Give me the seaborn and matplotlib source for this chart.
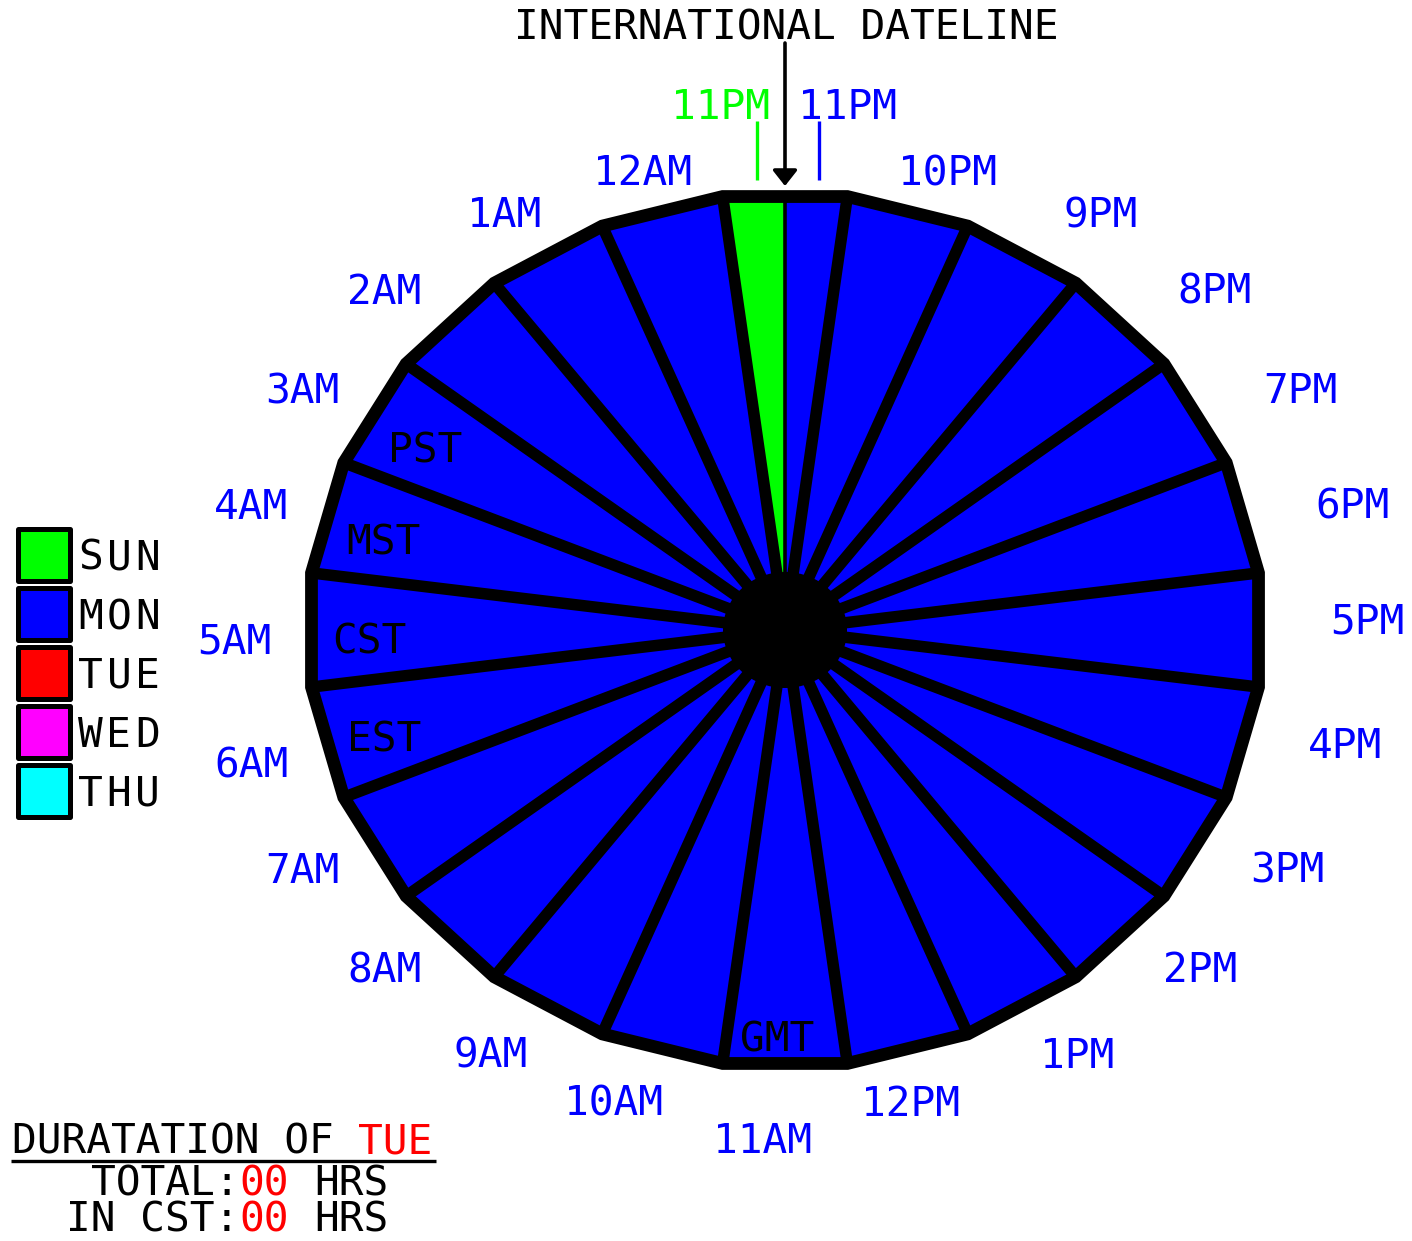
import numpy as np
import pandas as pd
import matplotlib
matplotlib.use("Agg")
import matplotlib.pyplot as plt
from matplotlib.patches import Polygon, Ellipse
import seaborn as sns

# ---------------- data ----------------
wedge_hours = ["11PM", "11PM", "10PM", "9PM", "8PM", "7PM", "6PM", "5PM", "4PM",
               "3PM", "2PM", "1PM", "12PM", "11AM", "10AM", "9AM", "8AM", "7AM",
               "6AM", "5AM", "4AM", "3AM", "2AM", "1AM", "12AM"]
wedge_days = ["SUN"] + ["MON"] * 24
wedge_share = [0.5, 0.5] + [1.0] * 23          # fraction of one hour in each slice
zone_names = ["PST", "MST", "CST", "EST", "GMT"]
zone_hours = ["3AM", "4AM", "5AM", "6AM", "11AM"]
legend_days = ["SUN", "MON", "TUE", "WED", "THU"]
day_colors = ["#00ff00", "#0000ff", "#ff0000", "#ff00ff", "#00ffff"]
title_text = "INTERNATIONAL DATELINE"
duration_day = "TUE"
total_hrs = "00"
cst_hrs = "00"

# ---------------- setup ----------------
sns.set_theme(style="white")
plt.rcParams["font.family"] = ["DejaVu Sans Mono"]

W, H = 1412, 1241
fig = plt.figure(figsize=(W / 100, H / 100), dpi=100)
ax = fig.add_axes([0, 0, 1, 1])

color_of = dict(zip(legend_days, day_colors))
FS = 29.6
CW = 0.602 * FS * 100 / 72      # monospace advance in px
CAP = 15                         # half cap height in px
BLUE = "#0000ff"

cx, cy = 785, 630
RX, RY = 477.6, 437.2
C75 = np.cos(np.radians(7.5))


def pt(theta, r):
    t = np.radians(theta)
    return cx + r * RX * np.sin(t), cy - r * RY * np.cos(t)


def edge_pt(theta):
    phi = np.round(theta / 15.0) * 15.0
    r = C75 / np.cos(np.radians(theta - phi))
    return pt(theta, r)


# ---------------- wedges ----------------
bounds = -7.5 + 15 * np.concatenate([[0], np.cumsum(wedge_share)])
mids = (bounds[:-1] + bounds[1:]) / 2
for i, day in enumerate(wedge_days):
    a0, a1 = bounds[i], bounds[i + 1]
    poly = [(cx, cy), edge_pt(a0), edge_pt(a1)]
    ax.add_patch(Polygon(poly, closed=True, facecolor=color_of[day],
                         edgecolor="none", zorder=1))

# separators
for b in bounds[:-1]:
    x1, y1 = edge_pt(b)
    is_dateline = abs(b) < 1e-9
    ax.plot([cx, x1], [cy, y1], color="black",
            lw=2.6 if is_dateline else 8.3, solid_capstyle="butt", zorder=2)

outer = [pt(7.5 + 15 * k, 1.0) for k in range(24)]
ax.add_patch(Polygon(outer, closed=True, facecolor="none", edgecolor="black",
                     lw=9.2, joinstyle="miter", zorder=3))
ax.add_patch(Ellipse((cx, cy), 124, 116, facecolor="black", edgecolor="none", zorder=4))

# ---------------- hour labels ----------------
for i, (hr, day) in enumerate(zip(wedge_hours, wedge_days)):
    th = mids[i]
    if wedge_share[i] < 1:
        # split dateline hour: tick + label above
        tx, _ = pt(th, 1.0)
        tx += 3
        ax.plot([tx, tx], [cy - RY * 1.03, cy - RY * 1.165], color=color_of[day],
                lw=2.4, solid_capstyle="butt", zorder=2)
        if th < 0:
            ax.text(cx - 15, 104 + CAP, hr, color=color_of[day], fontsize=FS,
                    ha="right", va="baseline")
        else:
            ax.text(cx + 13, 104 + CAP, hr, color=color_of[day], fontsize=FS,
                    ha="left", va="baseline")
        continue
    t = np.radians(th)
    s, c = np.sin(t), np.cos(t)
    if abs(s) < 1e-6:
        ax.text(cx - 23, cy + 510 + CAP - 2, hr, color=BLUE, fontsize=FS,
                ha="center", va="baseline")
        continue
    y = cy - 480 * c - 2
    if c < -0.8:
        y += 9
    if c > 0.95:
        y += 6
    if -0.3 < c < 0.1:
        y += 10 if s < 0 else -9
    if s > 0:
        a = 545 + 15 * c
        if c < -0.95:
            a *= 0.55
        elif c > 0.95:
            a *= 0.78
        elif c < -0.8:
            a *= 0.96
        x, ha = cx + a * s, "left"
    else:
        a = 514
        if c < -0.95:
            a *= 0.92
        elif c > 0.95:
            a *= 0.7
        elif c > 0.8:
            a *= 0.95
        x, ha = cx + a * s, "right"
    ax.text(x, y + CAP, hr, color=BLUE, fontsize=FS, ha=ha, va="baseline")

# ---------------- time zone labels ----------------
for z, hr in zip(zone_names, zone_hours):
    idx = wedge_hours.index(hr)
    r = 0.93 if z == "GMT" else 0.87
    x, y = pt(mids[idx], r)
    if z == "GMT":
        x -= 8
    ax.text(x, y + CAP + 8 * (z != "GMT"), z, color="black", fontsize=FS,
            ha="center", va="baseline", zorder=5)

# ---------------- dateline title + arrow ----------------
ax.text(cx + 1, 40, title_text, color="black", fontsize=FS, ha="center", va="baseline")
ax.annotate("", xy=(cx, 186), xytext=(cx, 43),
            arrowprops=dict(arrowstyle="-|>,head_width=0.37,head_length=0.47",
                            lw=2.6, color="black", shrinkA=0, shrinkB=0,
                            mutation_scale=20))

# ---------------- legend ----------------
leg = pd.DataFrame({"day": legend_days,
                    "x": [44] * len(legend_days),
                    "y": [555 + 59 * i for i in range(len(legend_days))]})
sns.scatterplot(data=leg, x="x", y="y", hue="day", palette=day_colors,
                marker="s", s=1400, edgecolor="black", linewidth=3.6,
                legend=False, ax=ax, zorder=5)
for i, d in enumerate(legend_days):
    for j, ch in enumerate(d):
        ax.text(78 + 28.5 * j, leg["y"][i] + CAP, ch, color="black", fontsize=FS,
                ha="left", va="baseline")

# ---------------- duration text ----------------
x0 = 12
ax.text(x0, 1153, "DURATATION OF ", color="black", fontsize=FS, ha="left", va="baseline")
ax.text(x0 + 14 * CW, 1153, duration_day, color="red", fontsize=FS, ha="left", va="baseline")
ax.plot([11, 436], [1161, 1161], color="black", lw=2.4, solid_capstyle="butt")

right = 388
for base, label, val in [(1195, "TOTAL:", total_hrs), (1232, "IN CST:", cst_hrs)]:
    n = len(label) + len(val) + 4
    xs = right - n * CW
    ax.text(xs, base, label, color="black", fontsize=FS, ha="left", va="baseline")
    ax.text(xs + len(label) * CW, base, val, color="red", fontsize=FS, ha="left", va="baseline")
    ax.text(xs + (len(label) + len(val) + 1) * CW, base, "HRS", color="black",
            fontsize=FS, ha="left", va="baseline")

ax.set_xlim(0, W)
ax.set_ylim(H, 0)
ax.axis("off")
fig.savefig("out.png", dpi=100, facecolor="white")
